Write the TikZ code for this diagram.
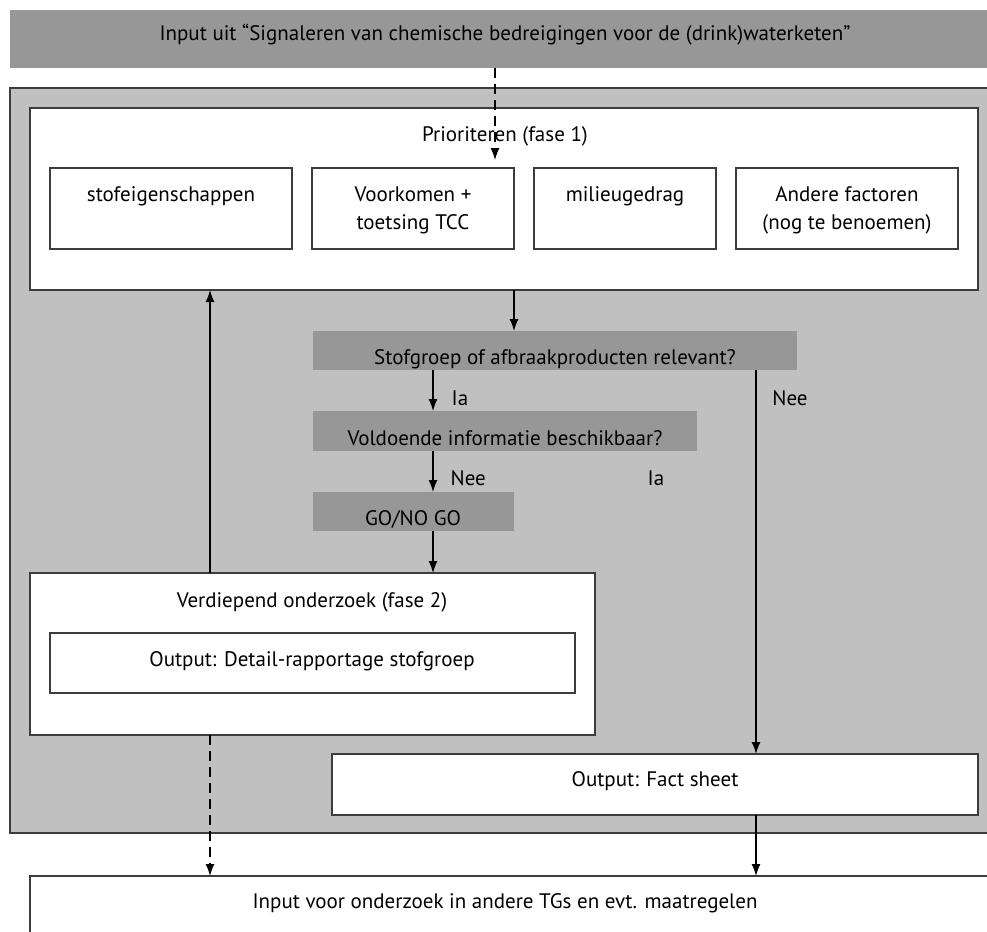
\documentclass[tikz,border=0pt]{standalone}
\usepackage{fontspec}
\setmainfont{PT Sans}
\usetikzlibrary{arrows.meta,positioning}
\definecolor{bannergray}{RGB}{151,151,151}
\definecolor{panelgray}{RGB}{192,192,192}
\definecolor{edgegray}{RGB}{60,60,60}

\tikzset{
  whitebox/.style={draw=edgegray,fill=white,line width=1.3pt,anchor=north west,inner sep=0pt,outer sep=0pt},
  graybox/.style={fill=bannergray,anchor=north west,inner sep=0pt,outer sep=0pt},
  lbl/.style={font=\fontsize{21}{28}\selectfont,inner sep=0pt,align=center},
}

\begin{document}
\begin{tikzpicture}[x=1pt,y=-1pt,line width=1.3pt,>={Latex[length=12pt,width=9pt]}]
\useasboundingbox (0,0) rectangle (987,931);
\clip (0,0) rectangle (987,931);
% background panel and banner
\node[graybox,minimum width=1000,minimum height=58] (banner) at (10,10) {};
\node[draw=edgegray,fill=panelgray,anchor=north west,inner sep=0pt,outer sep=0pt,line width=1.3pt,minimum width=1000,minimum height=745] (panel) at (10,88) {};
\node[lbl] (bannertxt) at (505,35) {Input uit “Signaleren van chemische bedreigingen voor de (drink)waterketen”};

% fase 1
\node[whitebox,minimum width=948,minimum height=182] (prio) at (30,108) {};
\node[lbl] (priotxt) at (505,136) {Prioriteren (fase 1)};
\node[whitebox,minimum width=242,minimum height=81] (stof) at (50,168) {};
\node[whitebox,minimum width=202,minimum height=81] (voork) at (312,168) {};
\node[whitebox,minimum width=182,minimum height=81] (milieu) at (534,168) {};
\node[whitebox,minimum width=222,minimum height=81] (andere) at (736,168) {};
\node[lbl,anchor=north] at ([yshift=-18pt]stof.north) {stofeigenschappen};
\node[lbl,anchor=north] at ([yshift=-18pt]voork.north) {Voorkomen +\\toetsing TCC};
\node[lbl,anchor=north] at ([yshift=-18pt]milieu.north) {milieugedrag};
\node[lbl,anchor=north] at ([yshift=-18pt]andere.north) {Andere factoren\\(nog te benoemen)};

% vragen
\node[graybox,minimum width=484,minimum height=39] (relevant) at (313,331) {};
\node[lbl] (relevanttxt) at (555,359) {Stofgroep of afbraakproducten relevant?};
\node[graybox,minimum width=384,minimum height=40] (info) at (313,411) {};
\node[lbl] (infotxt) at (505,438) {Voldoende informatie beschikbaar?};
\node[graybox,minimum width=201,minimum height=39] (gonogo) at (313,492) {};
\node[lbl] (gonogotxt) at (413,519) {GO/NO GO};

% fase 2
\node[whitebox,minimum width=565,minimum height=162] (verdiep) at (30,573) {};
\node[lbl] (verdieptxt) at (312,602) {Verdiepend onderzoek (fase 2)};
\node[whitebox,minimum width=525,minimum height=60] (detail) at (50,633) {};
\node[lbl] (detailtxt) at (312,661) {Output: Detail-rapportage stofgroep};
\node[whitebox,minimum width=646,minimum height=61] (fact) at (332,754) {};
\node[lbl] (facttxt) at (655,781) {Output: Fact sheet};
\node[whitebox,minimum width=1000,minimum height=80] (uit) at (30,876) {};
\node[lbl] (uittxt) at (505,903) {Input voor onderzoek in andere TGs en evt. maatregelen};

% connectoren
\coordinate (inx) at (495,160);
\coordinate (jax) at (433,0);
\coordinate (neex) at (756,0);
\coordinate (terugx) at (210,0);
\draw[->,dash pattern=on 10pt off 6pt] (banner.south -| inx) -- (inx);
\draw[->] (gonogo.east |- prio.south) -- (gonogo.east |- relevant.north);
\draw[->] (relevant.south -| jax) -- node[lbl,right=18pt,yshift=-8pt] {Ia} (info.north -| jax);
\draw[->] (info.south -| jax) -- node[lbl,right=17pt,yshift=-7pt] {Nee} (gonogo.north -| jax);
\node[lbl] (ja2) at (656,478) {Ia};
\draw[->] (gonogo.south -| jax) -- (verdiep.north -| jax);
\draw[->] (verdiep.north -| terugx) -- (prio.south -| terugx);
\draw[->] (relevant.south -| neex) -- (fact.north -| neex);
\node[lbl] (nee1) at (790,398) {Nee};
\draw[->,dash pattern=on 10pt off 6pt] (verdiep.south -| terugx) -- (uit.north -| terugx);
\draw[->] (fact.south -| neex) -- (uit.north -| neex);
\end{tikzpicture}
\end{document}
